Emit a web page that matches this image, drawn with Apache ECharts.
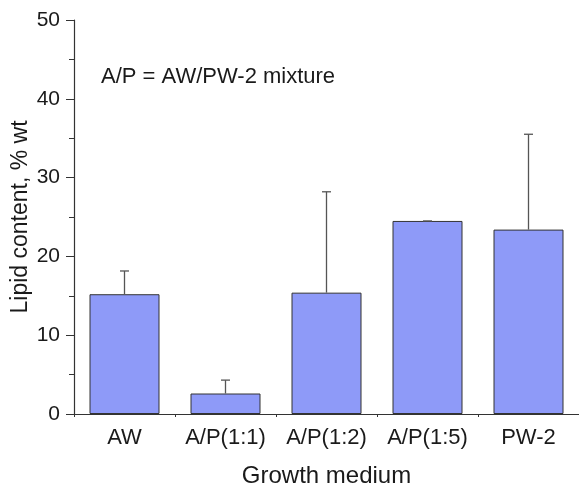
<!DOCTYPE html>
<html>
<head>
<meta charset="utf-8">
<script src="https://cdn.jsdelivr.net/npm/echarts@6/dist/echarts.min.js"></script>
<style>
  html, body { margin: 0; padding: 0; background: #fff; }
  #chart { width: 579px; height: 486px; }
</style>
</head>
<body>
<div id="chart"></div>
<script>
// data
var categories = ["AW", "A/P(1:1)", "A/P(1:2)", "A/P(1:5)", "PW-2"];
var lipidValues = [15.2, 2.6, 15.4, 24.5, 23.4];
var lipidErrors = [2.95, 1.7, 12.8, 0, 12.1]; // upper error only
var yTicks = [0, 10, 20, 30, 40, 50];

var fontName = "'Liberation Sans', Arial, sans-serif";
var barColor = "#8e9af8";

var chart = echarts.init(document.getElementById('chart'));

// error bar points: [index, value, error]
var errData = [];
for (var i = 0; i < categories.length; i++) {
    errData.push([i, lipidValues[i], lipidErrors[i]]);
}

var option = {
    animation: false,
    backgroundColor: '#fff',
    grid: { left: 74, right: 0, top: 20, bottom: 72, outerBoundsMode: 'none', containLabel: false },
    xAxis: [{
        type: 'category',
        data: categories,
        position: 'bottom',
        name: 'Growth medium',
        nameLocation: 'middle',
        nameGap: 50,
        nameMoveOverlap: false,
        nameTextStyle: { fontFamily: fontName, fontSize: 24, color: '#1a1a1a' },
        axisLine: { lineStyle: { color: '#333', width: 1.2 } },
        axisTick: { alignWithLabel: true, length: 6, lineStyle: { color: '#333' } },
        axisLabel: { interval: 0, hideOverlap: false, fontFamily: fontName, fontSize: 22, color: '#1a1a1a', margin: 13 }
    }, {
        // second axis only for the small ticks between categories
        type: 'category',
        data: categories,
        position: 'bottom',
        axisLine: { show: false },
        axisTick: { show: true, interval: 0, length: 3, lineStyle: { color: '#333' } },
        axisLabel: { show: false }
    }],
    yAxis: {
        type: 'value',
        min: yTicks[0],
        max: yTicks[yTicks.length - 1],
        interval: 10,
        name: 'Lipid content, % wt',
        nameLocation: 'middle',
        nameGap: 42,
        nameMoveOverlap: false,
        nameTextStyle: { fontFamily: fontName, fontSize: 23, color: '#1a1a1a' },
        axisLine: { show: true, lineStyle: { color: '#333', width: 1.2 } },
        axisTick: { show: true, length: 8, lineStyle: { color: '#333' } },
        minorTick: { show: true, splitNumber: 2, length: 5, lineStyle: { color: '#333' } },
        splitLine: { show: false },
        axisLabel: { fontFamily: fontName, fontSize: 21, color: '#1a1a1a', margin: 14 }
    },
    graphic: [{
        type: 'text',
        left: 101,
        top: 66,
        style: {
            text: 'A/P = AW/PW-2 mixture',
            font: '22px ' + fontName,
            fill: '#1a1a1a'
        }
    }],
    series: [{
        type: 'bar',
        data: lipidValues,
        barWidth: 70,
        itemStyle: { color: barColor, borderColor: '#333', borderWidth: 1 },
        z: 2
    }, {
        // error bars, drawn from the bar top upward
        type: 'custom',
        data: errData,
        z: 3,
        renderItem: function (params, api) {
            var idx = api.value(0);
            var base = api.coord([idx, api.value(1)]);
            var top = api.coord([idx, api.value(1) + api.value(2)]);
            var half = 4.5;
            return {
                type: 'group',
                children: [{
                    type: 'line',
                    shape: { x1: base[0], y1: base[1], x2: top[0], y2: top[1] },
                    style: { stroke: '#555', lineWidth: 1.3 }
                }, {
                    type: 'line',
                    shape: { x1: top[0] - half, y1: top[1], x2: top[0] + half, y2: top[1] },
                    style: { stroke: '#555', lineWidth: 1.3 }
                }]
            };
        }
    }]
};

chart.setOption(option);
</script>
</body>
</html>
